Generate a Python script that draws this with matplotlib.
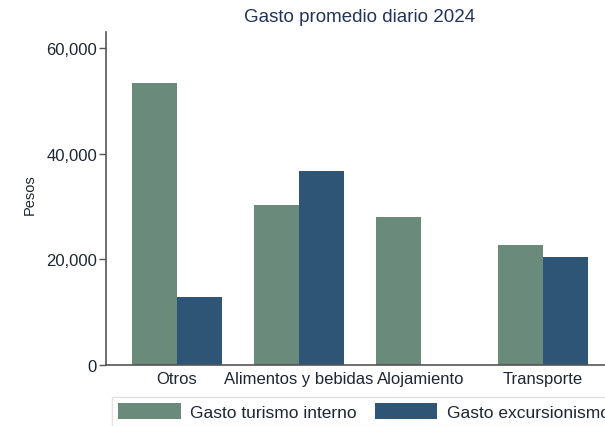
import numpy as np
import matplotlib.pyplot as plt

# data
categories = ['Otros', 'Alimentos y bebidas', 'Alojamiento', 'Transporte']
turismo_interno = [53400, 30300, 28000, 22700]
excursionismo = [12900, 36700, 0, 20400]
y_ticks = [0, 20000, 40000, 60000]

GREEN = '#6a8a7b'
BLUE = '#2e5576'
TEXT = '#1f2633'

plt.rcParams['font.family'] = ['Liberation Sans', 'DejaVu Sans']

fig = plt.figure(figsize=(6.05, 4.27), dpi=100)
ax = fig.add_axes([106 / 605, 1 - 366 / 427, 507 / 605, (366 - 33) / 427])

x = np.arange(len(categories))
w = 0.369
ax.bar(x - w / 2, turismo_interno, width=w, color=GREEN, label='Gasto turismo interno')
ax.bar(x + w / 2, excursionismo, width=w, color=BLUE, label='Gasto excursionismo')

ax.set_xlim(-0.582, 3.574)
ax.set_ylim(0, 63030)
ax.set_xticks(x)
ax.set_xticklabels(categories, fontsize=12, color=TEXT)
ax.set_yticks(y_ticks)
ax.set_yticklabels([f'{v:,}' for v in y_ticks], fontsize=12, color=TEXT)
ax.tick_params(axis='x', length=0, pad=4)
ax.tick_params(axis='y', length=5, width=1, color='#555555', pad=1.5)

for side in ['top', 'right']:
    ax.spines[side].set_visible(False)
for side in ['left', 'bottom']:
    ax.spines[side].set_color('#555555')
    ax.spines[side].set_linewidth(1.2)

fig.text(360 / 605, 1 - 18 / 427, 'Gasto promedio diario 2024', ha='center', va='center',
         fontsize=13.5, color='#22345a')
fig.text(30 / 605, 1 - 195 / 427, 'Pesos', rotation=90, ha='center', va='center',
         fontsize=10.5, color=TEXT)

leg = fig.legend(loc='upper left', bbox_to_anchor=(112 / 605, 1 - 398 / 427), ncol=2,
                 fontsize=12.5, handlelength=3.6, handleheight=1.0, handletextpad=0.55,
                 columnspacing=1.05, borderpad=0.35, frameon=True, fancybox=False,
                 edgecolor='#dddddd', borderaxespad=0)
leg.get_frame().set_linewidth(1.0)
for t in leg.get_texts():
    t.set_color(TEXT)

fig.savefig('out.png', dpi=100)
